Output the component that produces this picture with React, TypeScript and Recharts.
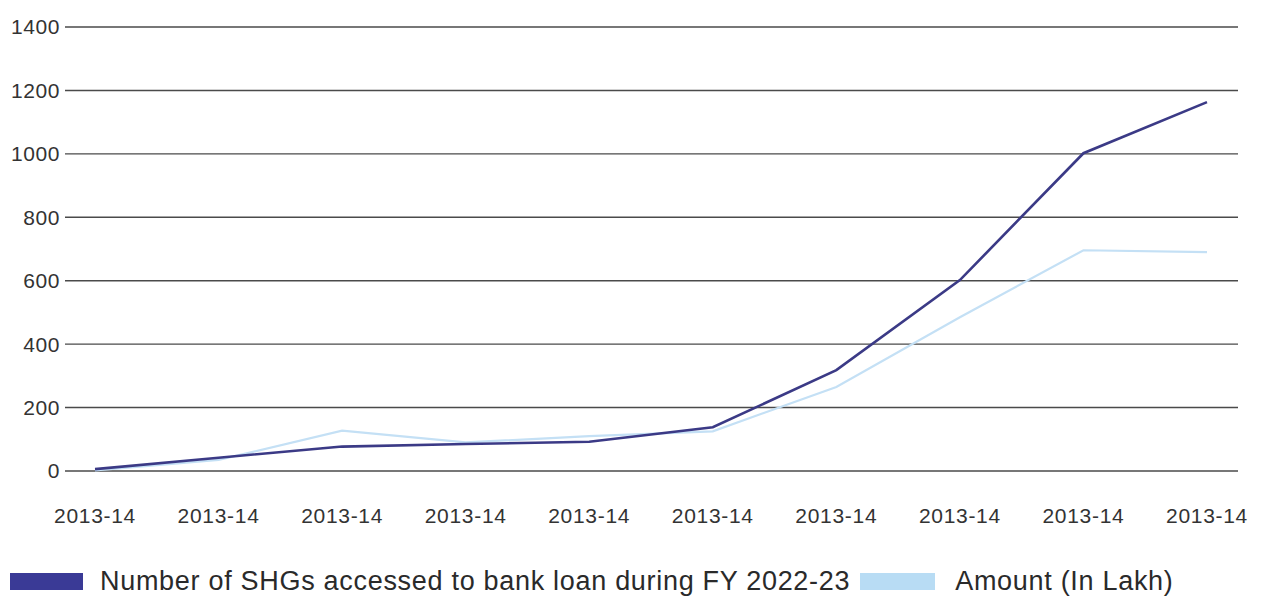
import React from "react";
import { LineChart, Line, XAxis, YAxis, CartesianGrid, Legend } from "recharts";

const years = ["2013-14", "2013-14", "2013-14", "2013-14", "2013-14", "2013-14", "2013-14", "2013-14", "2013-14", "2013-14"];
const shgCount = [6, 42, 77, 85, 92, 138, 318, 602, 1002, 1163];
const amountLakh = [2, 35, 127, 90, 110, 125, 265, 485, 696, 690];
const yTicks = [0, 200, 400, 600, 800, 1000, 1200, 1400];
const seriesNames = ["Number of SHGs accessed to bank loan during FY 2022-23", "Amount (In Lakh)"];

const DARK = "#3b3a86";
const DARK_SWATCH = "#3a3a96";
const LIGHT = "#c4e0f5";
const LIGHT_SWATCH = "#b8dcf4";

const data = years.map((y, i) => ({ year: y, shg: shgCount[i], amount: amountLakh[i] }));

const FONT = "'Liberation Sans', Arial, sans-serif";

const LegendContent = () => (
  <div
    style={{
      height: 36,
      display: "flex",
      alignItems: "center",
      fontFamily: FONT,
      fontSize: 27,
      letterSpacing: 0.7,
      color: "#2a2a2a",
      whiteSpace: "nowrap",
    }}
  >
    <span style={{ display: "inline-block", width: 73, height: 17, background: DARK_SWATCH, marginLeft: 2, marginRight: 17 }} />
    <span>{seriesNames[0]}</span>
    <span style={{ display: "inline-block", width: 75, height: 17, background: LIGHT_SWATCH, marginLeft: 10, marginRight: 20 }} />
    <span>{seriesNames[1]}</span>
  </div>
);

export default function App() {
  return (
    <div style={{ width: 1259, height: 591 }}>
      <LineChart width={1259} height={591} data={data} margin={{ top: 19, right: 29, left: 0, bottom: 0 }}>
        <CartesianGrid vertical={false} stroke="#4a4a4a" strokeWidth={1.4} />
        <XAxis
          dataKey="year"
          interval={0}
          axisLine={false}
          tickLine={false}
          tickSize={0}
          tickMargin={37}
          height={92}
          padding={{ left: 30, right: 31 }}
          tick={{ fill: "#333", fontSize: 21, fontFamily: FONT, letterSpacing: 0.7 } as any}
        />
        <YAxis
          domain={[0, 1400]}
          ticks={yTicks}
          width={57}
          axisLine={false}
          tickLine={false}
          tickSize={0}
          tickMargin={5}
          interval={0}
          tick={{ fill: "#333", fontSize: 21, fontFamily: FONT, letterSpacing: 0.6 } as any}
        />
        <Legend verticalAlign="bottom" align="left" content={<LegendContent />} />
        <Line type="linear" dataKey="amount" name={seriesNames[1]} stroke={LIGHT} strokeWidth={2.2} dot={false} isAnimationActive={false} />
        <Line type="linear" dataKey="shg" name={seriesNames[0]} stroke={DARK} strokeWidth={2.6} dot={false} isAnimationActive={false} />
      </LineChart>
    </div>
  );
}
